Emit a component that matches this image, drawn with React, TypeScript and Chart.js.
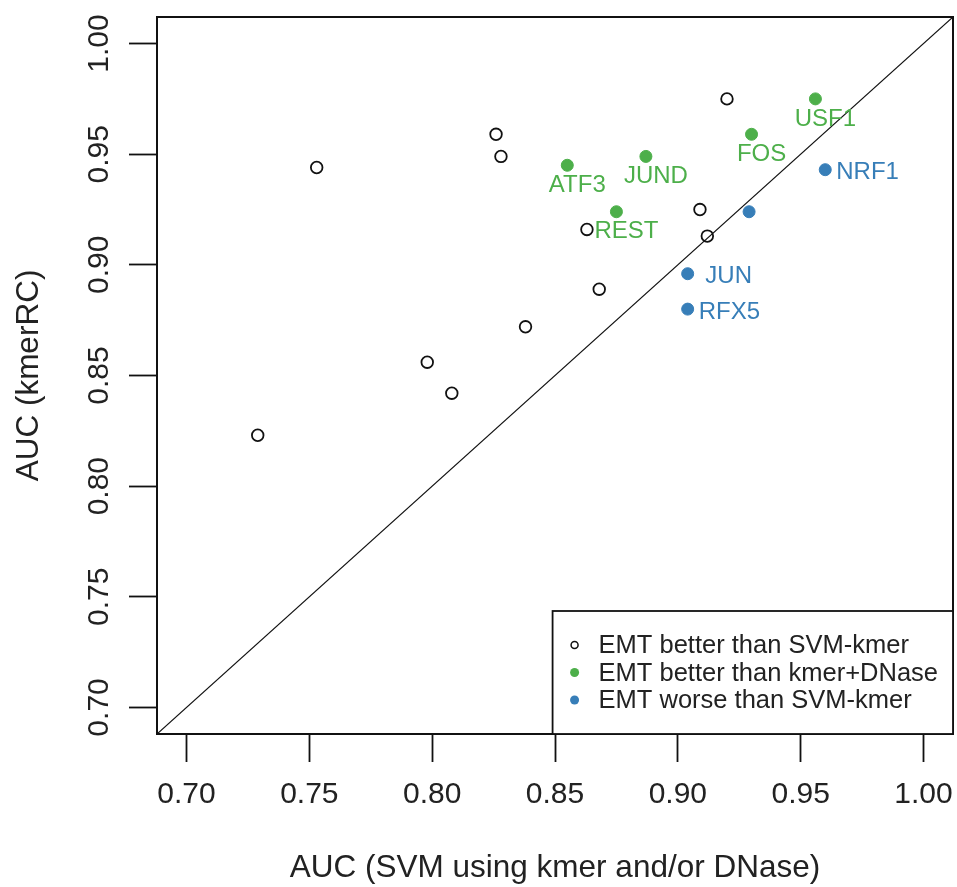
import React, { useEffect, useRef } from 'react';
import { Chart, registerables } from 'chart.js';

Chart.register(...registerables);

// Axis range and tick labels
const axisMin = 0.688;
const axisMax = 1.012;
const tickValues = [0.7, 0.75, 0.8, 0.85, 0.9, 0.95, 1.0];

// EMT better than SVM-kmer (open circles)
const openX = [0.729, 0.753, 0.798, 0.808, 0.838, 0.826, 0.828, 0.863, 0.868, 0.909, 0.912, 0.92];
const openY = [0.823, 0.944, 0.856, 0.842, 0.872, 0.959, 0.949, 0.916, 0.889, 0.925, 0.913, 0.975];

// EMT better than kmer+DNase (green)
const greenNames = ['USF1', 'FOS', 'JUND', 'ATF3', 'REST'];
const greenX = [0.956, 0.93, 0.887, 0.855, 0.875];
const greenY = [0.975, 0.959, 0.949, 0.945, 0.924];

// EMT worse than SVM-kmer (blue)
const blueNames = ['NRF1', '', ' JUN', 'RFX5'];
const blueX = [0.96, 0.929, 0.904, 0.904];
const blueY = [0.943, 0.924, 0.896, 0.88];

// Identity line end points
const diagonal = [axisMin, axisMax];

const legendLabels = ['EMT better than SVM-kmer', 'EMT better than kmer+DNase', 'EMT worse than SVM-kmer'];

const GREEN = '#4daf4a';
const BLUE = '#377eb8';
const FONT = "'Liberation Sans', Arial, Helvetica, sans-serif";
const TEXT = '#222222';

const toPoints = (xs: number[], ys: number[]) => xs.map((x, i) => ({ x, y: ys[i] }));

const labelPlugin = {
  id: 'pointLabels',
  afterDatasetsDraw(chart: any) {
    const ctx = chart.ctx;
    ctx.save();
    ctx.font = `24px ${FONT}`;
    ctx.textBaseline = 'middle';
    const gMeta = chart.getDatasetMeta(1);
    ctx.fillStyle = GREEN;
    ctx.textAlign = 'center';
    gMeta.data.forEach((el: any, i: number) => {
      ctx.fillText(greenNames[i], el.x + 10, el.y + 20);
    });
    const bMeta = chart.getDatasetMeta(2);
    ctx.fillStyle = BLUE;
    ctx.textAlign = 'left';
    bMeta.data.forEach((el: any, i: number) => {
      if (blueNames[i]) ctx.fillText(blueNames[i], el.x + 11, el.y + 3);
    });
    ctx.restore();
  },
};

const frameLegendPlugin = {
  id: 'frameLegend',
  afterDraw(chart: any) {
    const { ctx, chartArea } = chart;
    const { left, top, right, bottom } = chartArea;
    ctx.save();
    // full box around the plot region
    ctx.strokeStyle = '#111';
    ctx.lineWidth = 2;
    ctx.strokeRect(left, top, right - left, bottom - top);

    // legend (bottom right)
    ctx.font = `25.5px ${FONT}`;
    const maxW = Math.max(...legendLabels.map((t) => ctx.measureText(t).width));
    const w = 46 + maxW + 15;
    const h = 123;
    const bx = right - w;
    const by = bottom - h;
    ctx.fillStyle = '#fff';
    ctx.fillRect(bx, by, w, h);
    ctx.lineWidth = 1.8;
    ctx.strokeStyle = '#111';
    ctx.strokeRect(bx, by, w, h);
    const rows = [34, 61.5, 89];
    const colors = [null, GREEN, BLUE];
    ctx.textBaseline = 'middle';
    ctx.textAlign = 'left';
    rows.forEach((dy, i) => {
      const cy = by + dy;
      const cx = bx + 22;
      ctx.beginPath();
      if (colors[i] === null) {
        ctx.arc(cx, cy, 3.5, 0, Math.PI * 2);
        ctx.lineWidth = 1.5;
        ctx.strokeStyle = '#111';
        ctx.stroke();
      } else {
        ctx.arc(cx, cy, 4.5, 0, Math.PI * 2);
        ctx.fillStyle = colors[i] as string;
        ctx.fill();
      }
      ctx.fillStyle = TEXT;
      ctx.fillText(legendLabels[i], bx + 46, cy + 1);
    });
    ctx.restore();
  },
};

export default function App() {
  const canvasRef = useRef<HTMLCanvasElement | null>(null);

  useEffect(() => {
    const canvas = canvasRef.current;
    if (!canvas) return;
    const tickFont = { family: FONT, size: 30 };
    const titleFont = { family: FONT, size: 31.5 };
    const chart = new Chart(canvas, {
      type: 'scatter',
      data: {
        datasets: [
          {
            label: legendLabels[0],
            data: toPoints(openX, openY),
            pointStyle: 'circle',
            pointRadius: 5.8,
            pointBackgroundColor: 'rgba(255,255,255,0)',
            pointBorderColor: '#111',
            pointBorderWidth: 1.8,
          },
          {
            label: legendLabels[1],
            data: toPoints(greenX, greenY),
            pointRadius: 6,
            pointBackgroundColor: GREEN,
            pointBorderColor: GREEN,
            pointBorderWidth: 1,
          },
          {
            label: legendLabels[2],
            data: toPoints(blueX, blueY),
            pointRadius: 6,
            pointBackgroundColor: BLUE,
            pointBorderColor: BLUE,
            pointBorderWidth: 1,
          },
          {
            type: 'line',
            label: 'y = x',
            data: toPoints(diagonal, diagonal),
            showLine: true,
            borderColor: '#111',
            borderWidth: 1.2,
            pointRadius: 0,
            fill: false,
          } as any,
        ],
      },
      options: {
        animation: false,
        responsive: false,
        maintainAspectRatio: false,
        devicePixelRatio: 1,
        layout: { autoPadding: false, padding: { top: 17, right: 4, left: 0, bottom: 0 } },
        plugins: {
          legend: { display: false },
          tooltip: { enabled: false },
        },
        scales: {
          x: {
            type: 'linear',
            position: 'bottom',
            min: axisMin,
            max: axisMax,
            afterBuildTicks: (s: any) => {
              s.ticks = tickValues.map((v) => ({ value: v }));
            },
            afterFit: (s: any) => {
              s.height = 153;
              s.paddingLeft = 0;
              s.paddingRight = 0;
            },
            ticks: {
              autoSkip: false,
              maxRotation: 0,
              minRotation: 0,
              padding: 15,
              color: TEXT,
              font: tickFont,
              callback: (v: any) => Number(v).toFixed(2),
            },
            grid: {
              drawOnChartArea: false,
              drawTicks: true,
              tickLength: 28,
              color: '#111',
              tickColor: '#111',
              tickWidth: 1.8,
            },
            border: { display: true, color: '#111', width: 2 },
            title: {
              display: true,
              text: 'AUC (SVM using kmer and/or DNase)',
              color: TEXT,
              font: titleFont,
              padding: { top: 0, bottom: 0 },
            },
          },
          y: {
            type: 'linear',
            position: 'left',
            min: axisMin,
            max: axisMax,
            afterBuildTicks: (s: any) => {
              s.ticks = tickValues.map((v) => ({ value: v }));
            },
            afterFit: (s: any) => {
              s.width = 157;
              s.paddingTop = 0;
              s.paddingBottom = 0;
            },
            ticks: {
              autoSkip: false,
              minRotation: 90,
              maxRotation: 90,
              crossAlign: 'center',
              padding: 0,
              color: TEXT,
              font: tickFont,
              callback: (v: any) => Number(v).toFixed(2),
            },
            grid: {
              drawOnChartArea: false,
              drawTicks: true,
              tickLength: 28,
              color: '#111',
              tickColor: '#111',
              tickWidth: 1.8,
            },
            border: { display: true, color: '#111', width: 2 },
            title: {
              display: true,
              text: 'AUC (kmerRC)',
              color: TEXT,
              font: titleFont,
              padding: { top: 10, bottom: 0 },
            },
          },
        },
      },
      plugins: [labelPlugin, frameLegendPlugin],
    });
    return () => chart.destroy();
  }, []);

  return (
    <div style={{ position: 'absolute', left: 0, top: 0, width: 957, height: 887, background: '#fff' }}>
      <canvas ref={canvasRef} width={957} height={887} style={{ display: 'block' }} />
    </div>
  );
}
